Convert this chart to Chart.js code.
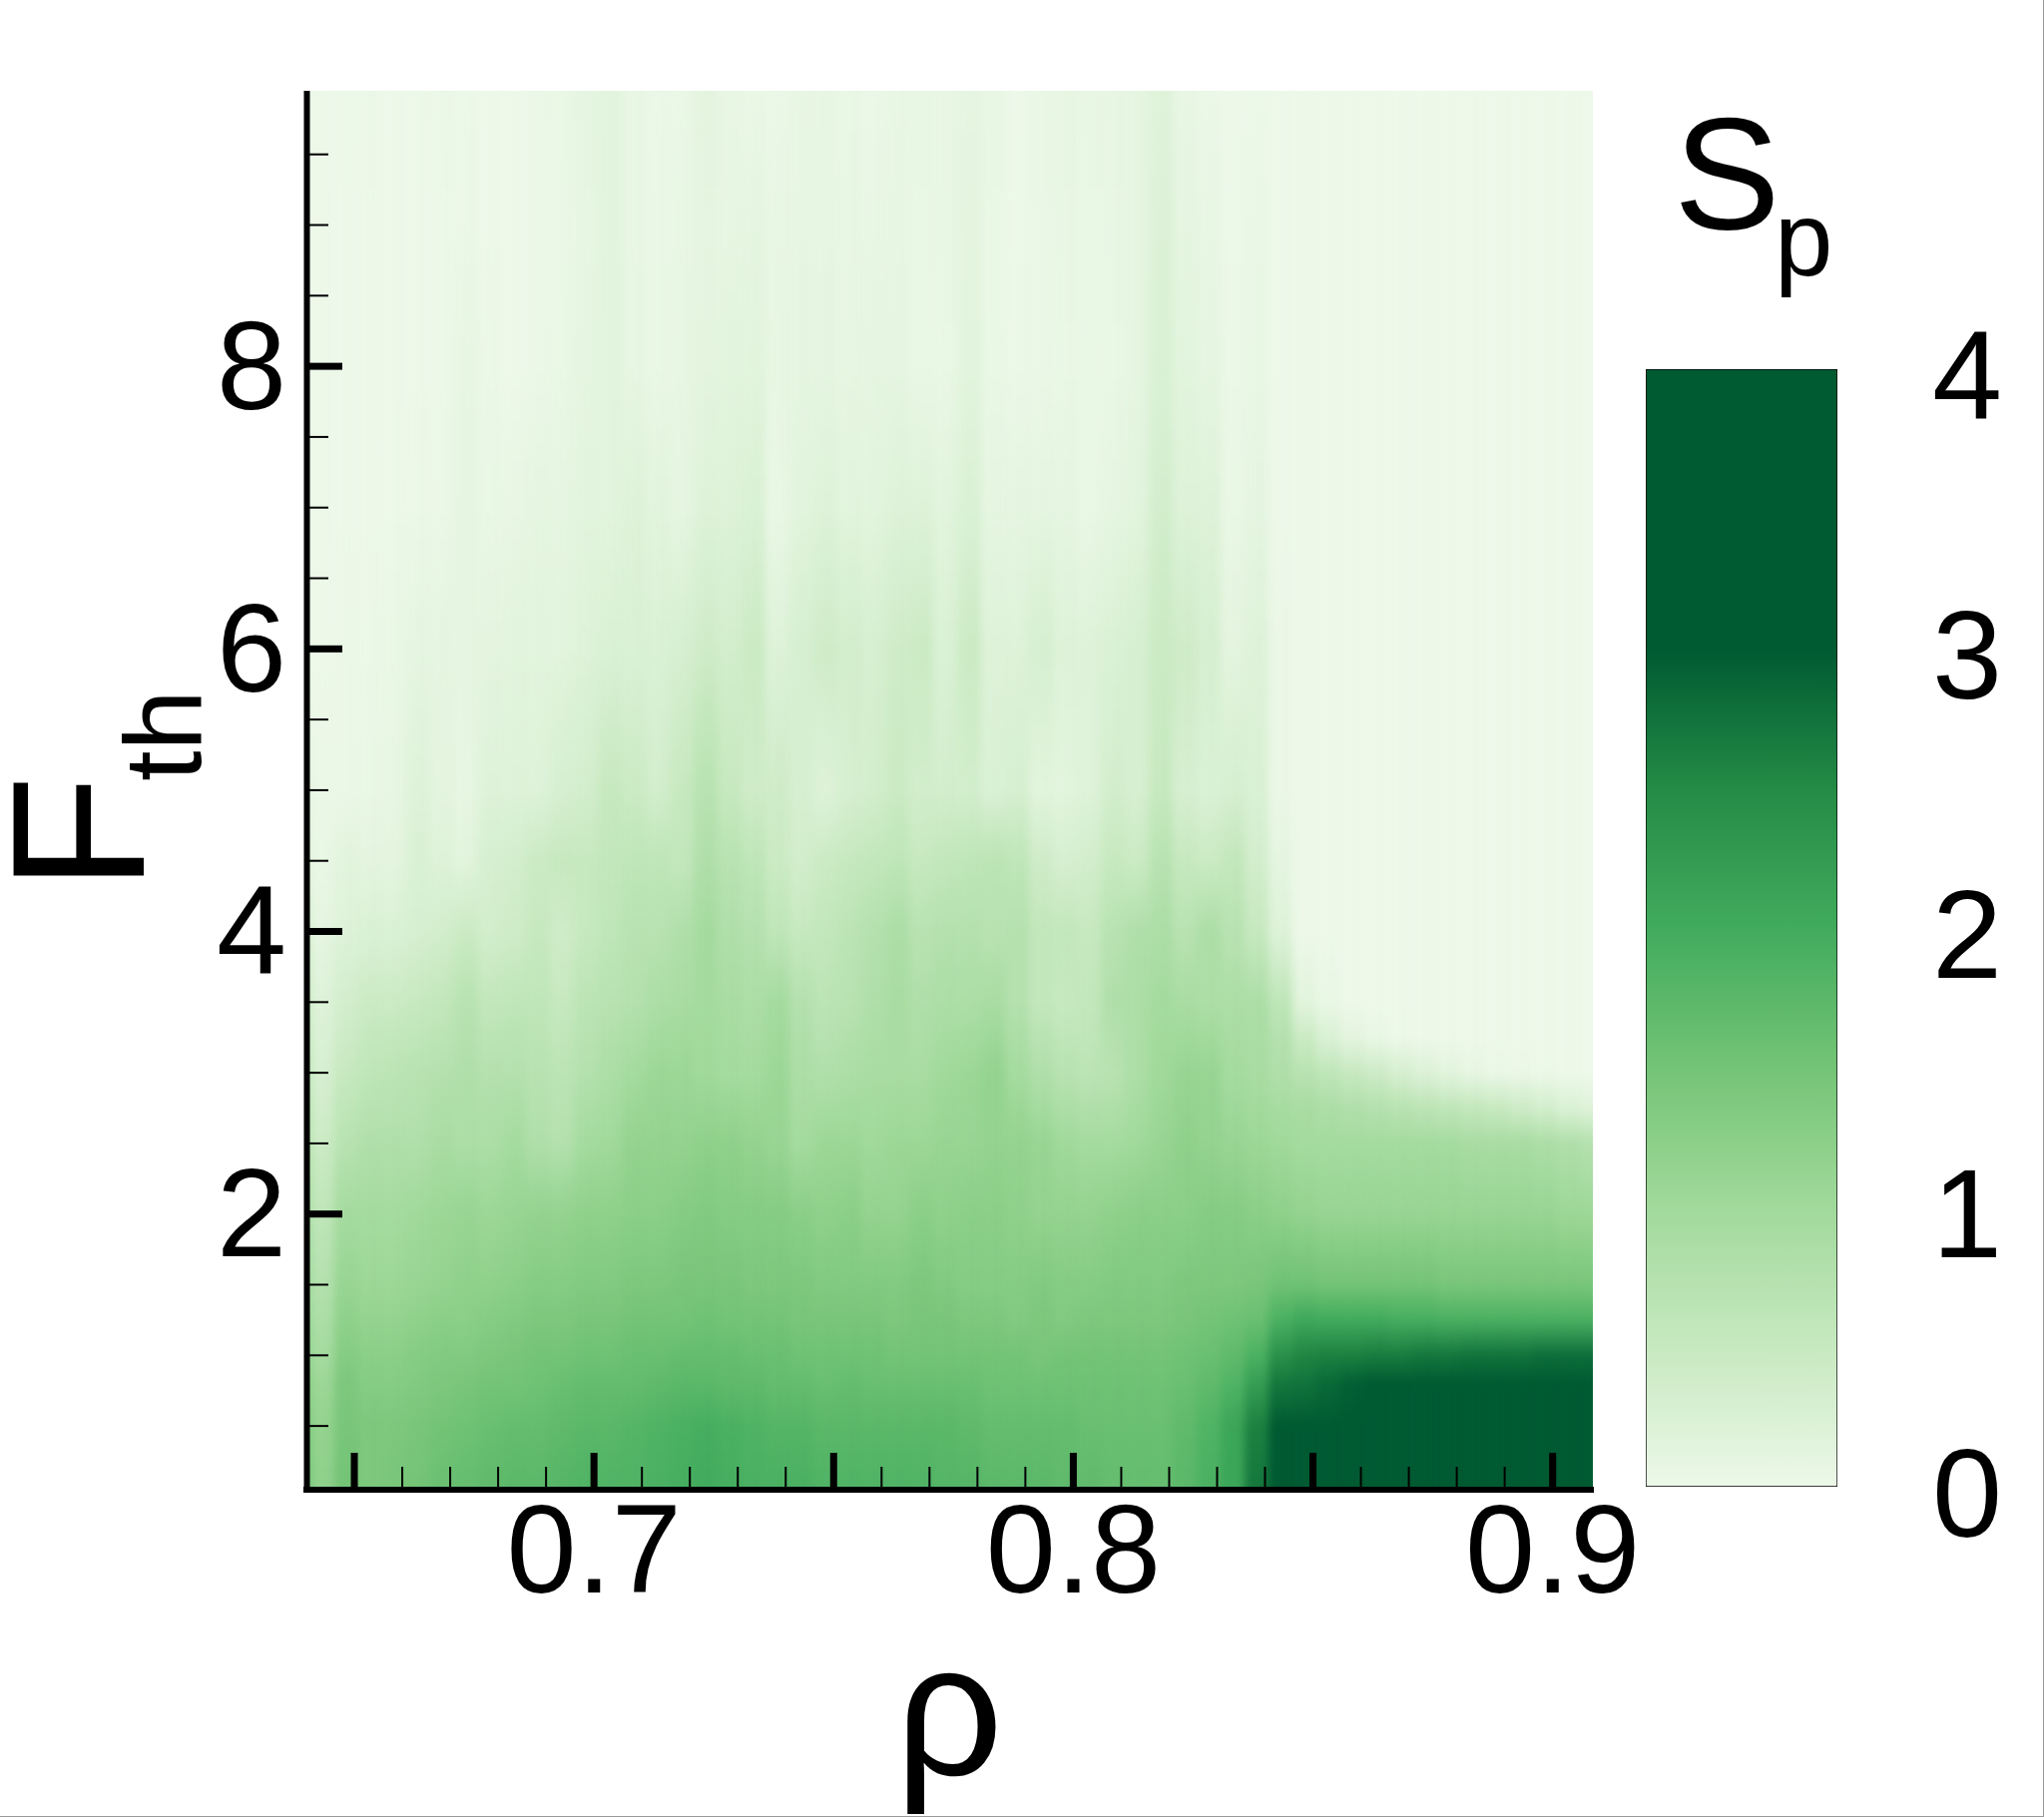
<!DOCTYPE html>
<html>
<head>
<meta charset="utf-8">
<title>Sp heatmap</title>
<script src="https://cdn.jsdelivr.net/npm/chart.js@4"></script>
<style>
    html, body { margin: 0; padding: 0; background: #fff; }
    #wrap { position: relative; width: 2048px; height: 1821px; overflow: hidden; }
    #wrap canvas { position: absolute; left: 0; top: 0; }
    #edge { position: absolute; left: 0; top: 0; width: 2048px; height: 1821px; box-sizing: border-box;
            border-right: 1px solid #999; border-bottom: 1px solid #999; }
</style>
</head>
<body>
<div id="wrap">
    <canvas id="mainChart" width="2048" height="1821"></canvas>
    <canvas id="barChart" width="2048" height="1821"></canvas>
    <div id="edge"></div>
</div>
<script>
// --- Data ---
const rhoValues = [
    0.64, 0.645, 0.65, 0.655, 0.66, 0.665, 0.67, 0.675, 0.68, 0.685,
    0.69, 0.695, 0.70, 0.705, 0.71, 0.715, 0.72, 0.725, 0.73, 0.735,
    0.74, 0.745, 0.75, 0.755, 0.76, 0.765, 0.77, 0.775, 0.78, 0.785,
    0.79, 0.795, 0.80, 0.805, 0.81, 0.815, 0.82, 0.825, 0.83, 0.835,
    0.84, 0.845, 0.85, 0.855, 0.86, 0.865, 0.87, 0.875, 0.88, 0.885,
    0.89, 0.895, 0.90, 0.905, 0.91
];
const fValues = [0.07, 0.5, 0.8, 1, 1.25, 1.5, 2, 2.5, 2.75, 3, 3.25, 3.5, 4, 4.5, 5, 6, 7, 8, 9, 9.95];

// Sp along rho, one list per F row
const spF007 = [1.6,1.2,1.5,1.4,1.45,1.5,1.6,1.65,1.7,1.75, 1.75,1.8,1.85,1.85,1.85,1.9,1.95,2.0,1.95,1.9, 1.9,1.9,1.85,1.85,1.85,1.85,1.85,1.8,1.8,1.75, 1.75,1.75,1.7,1.7,1.65,1.65,1.65,1.75,1.9,2.1, 2.7,3.4,3.4,3.4,3.4,3.4,3.4,3.4,3.4,3.4, 3.4,3.4,3.4,3.4,3.4];
const spF05 = [1.45,1.15,1.45,1.4,1.4,1.45,1.5,1.55,1.6,1.65, 1.65,1.7,1.75,1.75,1.8,1.85,1.9,1.95,1.9,1.85, 1.8,1.8,1.75,1.75,1.75,1.75,1.75,1.75,1.7,1.65, 1.65,1.65,1.65,1.6,1.6,1.6,1.6,1.7,1.85,2.1, 2.6,3.1,3.2,3.3,3.3,3.3,3.3,3.3,3.3,3.3, 3.3,3.3,3.3,3.3,3.3];
const spF08 = [1.35,1.05,1.4,1.3,1.3,1.35,1.4,1.45,1.5,1.5, 1.55,1.6,1.65,1.65,1.65,1.7,1.75,1.75,1.7,1.7, 1.65,1.65,1.6,1.65,1.6,1.6,1.6,1.6,1.6,1.55, 1.55,1.55,1.55,1.55,1.55,1.55,1.55,1.6,1.7,1.85, 2.2,2.7,2.75,2.85,2.95,3.0,3.05,3.05,3.1,3.1, 3.15,3.15,3.2,3.2,3.2];
const spF10 = [1.25,0.95,1.3,1.25,1.25,1.3,1.35,1.35,1.4,1.45, 1.5,1.5,1.55,1.55,1.6,1.6,1.65,1.65,1.65,1.6, 1.6,1.55,1.55,1.55,1.55,1.5,1.5,1.5,1.5,1.5, 1.5,1.45,1.5,1.5,1.5,1.5,1.5,1.55,1.6,1.7, 1.9,2.4,2.55,2.6,2.6,2.65,2.65,2.7,2.7,2.75, 2.75,2.75,2.8,2.8,2.8];
const spF125 = [1.15,0.85,1.2,1.15,1.15,1.2,1.25,1.25,1.3,1.35, 1.4,1.4,1.45,1.45,1.5,1.5,1.5,1.55,1.5,1.5, 1.5,1.45,1.45,1.45,1.45,1.4,1.45,1.45,1.4,1.4, 1.35,1.4,1.35,1.4,1.4,1.4,1.4,1.45,1.5,1.55, 1.6,1.9,2.05,2.0,2.0,2.0,1.95,1.95,1.9,1.9, 1.9,1.9,1.9,1.9,1.9];
const spF15 = [1.1,0.75,1.1,1.05,1.05,1.1,1.15,1.2,1.2,1.25, 1.3,1.3,1.35,1.35,1.4,1.4,1.45,1.45,1.45,1.4, 1.4,1.4,1.35,1.35,1.35,1.35,1.4,1.35,1.3,1.3, 1.3,1.35,1.3,1.3,1.35,1.35,1.35,1.4,1.4,1.4, 1.45,1.55,1.55,1.5,1.5,1.5,1.5,1.5,1.45,1.45, 1.45,1.45,1.45,1.45,1.45];
const spF20 = [1.0,0.6,0.95,0.95,0.95,1.0,1.05,1.1,1.05,1.1, 1.15,1.15,1.2,1.2,1.25,1.25,1.3,1.35,1.3,1.3, 1.3,1.25,1.2,1.25,1.15,1.15,1.25,1.2,1.25,1.25, 1.2,1.15,1.15,1.15,1.2,1.25,1.25,1.25,1.3,1.3, 1.25,1.2,1.15,1.1,1.1,1.1,1.1,1.1,1.1,1.1, 1.1,1.1,1.1,1.05,1.05];
const spF25 = [0.85,0.45,0.7,0.8,0.8,0.8,0.9,0.85,0.85,0.95, 0.8,0.75,0.95,1.0,1.15,1.15,1.15,1.2,1.2,1.15, 1.1,0.95,1.05,1.05,1.0,1.05,1.05,1.1,1.1,1.15, 1.15,1.1,1.0,0.95,0.95,1.0,1.1,1.2,1.15,1.1, 1.05,1.0,0.95,0.95,0.95,0.95,0.95,0.95,0.95,0.9, 0.9,0.9,0.85,0.8,0.75];
const spF275 = [0.78,0.37,0.6,0.7,0.72,0.75,0.82,0.82,0.8,0.85, 0.75,0.7,0.85,0.92,1.05,1.1,1.1,1.1,1.08,1.05, 1.08,0.9,0.92,0.95,0.95,0.98,0.98,1.05,1.08,1.15, 1.05,0.95,0.85,0.8,0.82,0.92,1.05,1.15,1.12,1.02, 0.98,0.92,0.9,0.85,0.8,0.75,0.7,0.65,0.6,0.55, 0.5,0.42,0.35,0.25,0.2];
const spF30 = [0.7,0.3,0.5,0.6,0.65,0.7,0.75,0.8,0.75,0.75, 0.7,0.65,0.75,0.85,0.95,1.05,1.05,1.0,0.95,0.95, 1.05,0.85,0.8,0.85,0.9,0.9,0.9,1.0,1.05,1.15, 0.95,0.8,0.7,0.65,0.7,0.85,1.0,1.1,1.1,0.95, 0.9,0.8,0.7,0.6,0.5,0.42,0.3,0.22,0.15,0.08, 0.04,0.02,0.01,0,0];
const spF325 = [0.62,0.25,0.42,0.52,0.55,0.6,0.65,0.75,0.65,0.68, 0.65,0.58,0.7,0.78,0.85,0.95,0.98,0.98,0.92,0.9, 1.0,0.8,0.72,0.78,0.85,0.9,0.85,0.92,0.95,1.02, 0.85,0.68,0.6,0.6,0.75,0.85,0.98,1.0,0.98,0.9, 0.88,0.75,0.45,0.25,0.12,0.05,0.01,0,0,0, 0,0,0,0,0];
const spF35 = [0.55,0.2,0.35,0.45,0.45,0.5,0.55,0.7,0.55,0.6, 0.6,0.5,0.65,0.7,0.75,0.85,0.9,0.95,0.9,0.85, 0.95,0.75,0.65,0.7,0.8,0.9,0.8,0.85,0.85,0.9, 0.75,0.55,0.5,0.55,0.8,0.85,0.95,0.9,0.85,0.85, 0.85,0.6,0.15,0.05,0,0,0,0,0,0, 0,0,0,0,0];
const spF40 = [0.4,0.1,0.2,0.25,0.25,0.3,0.35,0.45,0.35,0.4, 0.5,0.4,0.5,0.6,0.7,0.7,0.8,0.95,0.8,0.75, 0.6,0.5,0.55,0.65,0.75,0.85,0.7,0.75,0.75,0.7, 0.75,0.55,0.55,0.5,0.7,0.8,0.85,0.7,0.85,0.7, 0.5,0.2,0,0,0,0,0,0,0,0, 0,0,0,0,0];
const spF45 = [0.25,0.05,0.15,0.12,0.12,0.25,0.2,0.15,0.3,0.35, 0.45,0.5,0.5,0.55,0.6,0.6,0.55,0.8,0.7,0.6, 0.45,0.35,0.45,0.5,0.55,0.6,0.5,0.55,0.6,0.65, 0.6,0.4,0.3,0.35,0.5,0.45,0.7,0.5,0.45,0.55, 0.35,0.1,0,0,0,0,0,0,0,0, 0,0,0,0,0];
const spF50 = [0.15,0.02,0.03,0.05,0.08,0.2,0.12,0.08,0.2,0.2, 0.2,0.3,0.35,0.5,0.45,0.35,0.5,0.7,0.5,0.4, 0.4,0.3,0.2,0.3,0.35,0.45,0.35,0.35,0.35,0.25, 0.3,0.15,0.15,0.2,0.35,0.3,0.5,0.3,0.25,0.3, 0.25,0.02,0,0,0,0,0,0,0,0, 0,0,0,0,0];
const spF60 = [0,0,0.02,0.03,0.05,0.1,0.1,0.1,0.12,0.15, 0.15,0.15,0.2,0.25,0.25,0.25,0.3,0.4,0.35,0.45, 0.2,0.3,0.4,0.35,0.3,0.4,0.45,0.25,0.45,0.2, 0.2,0.3,0.2,0.2,0.25,0.3,0.45,0.4,0.3,0.12, 0.2,0.02,0,0,0,0,0,0,0,0, 0,0,0,0,0];
const spF70 = [0,0,0,0,0.01,0.02,0.03,0.1,0.05,0.07, 0.1,0.1,0.15,0.15,0.2,0.15,0.1,0.2,0.2,0.25, 0.05,0.15,0.2,0.15,0.15,0.2,0.2,0.15,0.25,0.1, 0.1,0.1,0.1,0.05,0.1,0.15,0.35,0.2,0.2,0.05, 0.1,0,0,0,0,0,0,0,0,0, 0,0,0,0,0];
const spF80 = [0,0,0,0,0,0,0.01,0.08,0.02,0, 0.03,0.05,0.1,0.15,0.08,0.05,0.08,0.12,0.15,0.15, 0.08,0.1,0.1,0.08,0.1,0.1,0.05,0.05,0.15,0.05, 0.03,0.04,0.05,0.05,0.05,0.1,0.25,0.15,0.1,0.02, 0.05,0,0,0,0,0,0,0,0,0, 0,0,0,0,0];
const spF90 = [0,0,0,0,0,0,0.01,0.03,0,0, 0.02,0.04,0.08,0.14,0.06,0.04,0.06,0.1,0.08,0.1, 0.06,0.08,0.08,0.06,0.06,0.08,0.05,0.06,0.12,0.05, 0.01,0.04,0.06,0.05,0.06,0.1,0.22,0.1,0.06,0.01, 0.04,0,0,0,0,0,0,0,0,0, 0,0,0,0,0];
const spF995 = [0,0,0.01,0.02,0,0.01,0.02,0.01,0,0, 0.03,0.05,0.1,0.15,0.06,0.03,0.04,0.12,0.06,0.04, 0.03,0.06,0.08,0.05,0.03,0.06,0.06,0.07,0.1,0.06, 0,0.05,0.08,0.06,0.08,0.1,0.18,0.06,0.03,0, 0.01,0,0,0,0,0,0,0,0,0, 0,0,0,0,0];
const spRows = [spF007, spF05, spF08, spF10, spF125, spF15, spF20, spF25, spF275, spF30, spF325, spF35, spF40, spF45, spF50, spF60, spF70, spF80, spF90, spF995];

// Colour legend
const colorbarLevels = [0, 0.5, 1, 1.5, 2, 2.5, 3];
const colorbarColors = ['#edf8e9', '#c7e9c0', '#a1d99b', '#74c476', '#41ab5d', '#238b45', '#005a32'];

// Axis ticks
const xMajorTicks = [0.65, 0.7, 0.75, 0.8, 0.85, 0.9];
const xLabelTicks = [0.7, 0.8, 0.9];
const xMinorTicks = [0.66, 0.67, 0.68, 0.69, 0.71, 0.72, 0.73, 0.74, 0.76, 0.77, 0.78, 0.79, 0.81, 0.82, 0.83, 0.84, 0.86, 0.87, 0.88, 0.89];
const yMajorTicks = [2, 4, 6, 8];
const yMinorTicks = [0.5, 1, 1.5, 2.5, 3, 3.5, 4.5, 5, 5.5, 6.5, 7, 7.5, 8.5, 9, 9.5];

spRows.forEach((r, i) => { if (r.length !== rhoValues.length) throw new Error('row ' + i + ' has ' + r.length); });

// --- Colour helpers ---
function hexToRgb(hex) {
    return [1, 3, 5].map(i => parseInt(hex.substr(i, 2), 16));
}

function colorFor(v) {
    const n = colorbarLevels.length;
    if (v <= colorbarLevels[0]) return colorbarColors[0];
    if (v >= colorbarLevels[n - 1]) return colorbarColors[n - 1];
    let i = 0;
    while (v > colorbarLevels[i + 1]) i++;
    const t = (v - colorbarLevels[i]) / (colorbarLevels[i + 1] - colorbarLevels[i]);
    const a = hexToRgb(colorbarColors[i]);
    const b = hexToRgb(colorbarColors[i + 1]);
    return `rgb(${a.map((c, k) => Math.round(c + (b[k] - c) * t)).join(',')})`;
}

// Vertical gradient for one rho column, stops placed by the y scale
function columnGradient(context) {
    const chart = context.chart;
    const i = context.dataIndex;
    if (i === undefined || !chart.chartArea) return colorbarColors[0];
    const y = chart.scales.y;
    const y0 = y.getPixelForValue(fValues[0]);
    const y1 = y.getPixelForValue(fValues[fValues.length - 1]);
    const grad = chart.ctx.createLinearGradient(0, y0, 0, y1);
    fValues.forEach((f, k) => {
        grad.addColorStop((y.getPixelForValue(f) - y0) / (y1 - y0), colorFor(spRows[k][i]));
    });
    return grad;
}

// --- Plugins ---
const softColumns = {
    id: 'softColumns',
    beforeDatasetDraw(chart) { chart.ctx.save(); chart.ctx.filter = 'blur(4px)'; },
    afterDatasetDraw(chart) { chart.ctx.restore(); }
};

function drawAxes(chart) {
    const { ctx, scales: { x, y }, chartArea: area } = chart;
    ctx.save();
    ctx.fillStyle = '#000';
    // the frame lines sit just outside the plot
    ctx.fillRect(area.left - 2.5, area.top, 6, area.bottom - area.top + 5);
    ctx.fillRect(area.left - 3, area.bottom, area.right - area.left + 4, 6);
    xMajorTicks.forEach(v => ctx.fillRect(x.getPixelForValue(v) - 3.5, area.bottom - 34, 7, 34));
    xMinorTicks.forEach(v => ctx.fillRect(x.getPixelForValue(v) - 1, area.bottom - 20, 2, 20));
    yMajorTicks.forEach(v => ctx.fillRect(area.left, y.getPixelForValue(v) - 3.5, 36, 7));
    yMinorTicks.forEach(v => ctx.fillRect(area.left, y.getPixelForValue(v) - 1, 22, 2));
    ctx.restore();
}

function drawText(ctx, text, x, y, size, angle) {
    ctx.save();
    ctx.translate(x, y);
    ctx.rotate(angle || 0);
    ctx.font = size + 'px "Liberation Sans"';
    ctx.fillStyle = '#000';
    ctx.textAlign = 'left';
    ctx.textBaseline = 'alphabetic';
    ctx.fillText(text, 0, 0);
    ctx.restore();
}

const axisMarks = {
    id: 'axisMarks',
    afterDatasetsDraw(chart) { drawAxes(chart); },
    afterDraw(chart) {
        const ctx = chart.ctx;
        drawText(ctx, 'F', 144, 893, 190, -Math.PI / 2);
        drawText(ctx, 'th', 201, 783, 110, -Math.PI / 2);
        drawText(ctx, 'ρ', 897, 1779, 190);
        drawText(ctx, 'S', 1677, 229, 160);
        drawText(ctx, 'p', 1778, 276, 105);
    }
};

// --- Main chart ---
const tickFont = { family: '"Liberation Sans"', size: 126 };

new Chart(document.getElementById('mainChart'), {
    type: 'bar',
    data: {
        datasets: [{
            data: rhoValues.map(rho => ({ x: rho, y: [-2, 12] })),
            backgroundColor: columnGradient,
            borderWidth: 0,
            barThickness: 40
        }]
    },
    options: {
        responsive: false,
        animation: false,
        layout: { padding: { top: 91, right: 452, left: 0, bottom: 0 } },
        plugins: { legend: { display: false }, tooltip: { enabled: false } },
        scales: {
            x: {
                type: 'linear',
                offset: false,
                min: 0.64,
                max: 0.9084,
                afterBuildTicks: axis => { axis.ticks = xLabelTicks.map(value => ({ value })); },
                afterFit: axis => { axis.height = 331; axis.paddingLeft = 0; axis.paddingRight = 0; },
                grid: { display: false, drawTicks: false },
                border: { display: false },
                ticks: { color: '#000', font: tickFont, padding: -4, maxRotation: 0, autoSkip: false, callback: v => v.toFixed(1) }
            },
            y: {
                min: 0.07,
                max: 9.95,
                afterBuildTicks: axis => { axis.ticks = yMajorTicks.map(value => ({ value })); },
                afterFit: axis => { axis.width = 307; axis.paddingTop = 0; axis.paddingBottom = 0; },
                grid: { display: false, drawTicks: false },
                border: { display: false },
                ticks: { color: '#000', font: tickFont, padding: 20, labelOffset: 8, autoSkip: false }
            }
        }
    },
    plugins: [softColumns, axisMarks]
});

// --- Colour bar ---
function legendGradient(context) {
    const chart = context.chart;
    if (!chart.chartArea) return colorbarColors[0];
    const y = chart.scales.y;
    const grad = chart.ctx.createLinearGradient(0, y.getPixelForValue(0), 0, y.getPixelForValue(4));
    colorbarLevels.forEach((v, k) => grad.addColorStop(v / 4, colorbarColors[k]));
    return grad;
}

new Chart(document.getElementById('barChart'), {
    type: 'bar',
    data: {
        labels: ['Sp'],
        datasets: [{
            data: [[0, 4]],
            backgroundColor: legendGradient,
            borderColor: '#000',
            borderWidth: 1,
            borderSkipped: false,
            barPercentage: 1,
            categoryPercentage: 1
        }]
    },
    options: {
        responsive: false,
        animation: false,
        layout: { padding: { top: 370, right: 0, left: 1649, bottom: 331 } },
        plugins: { legend: { display: false }, tooltip: { enabled: false } },
        scales: {
            x: { display: false },
            y: {
                position: 'right',
                min: 0,
                max: 4,
                afterFit: axis => { axis.width = 207; },
                grid: { display: false, drawTicks: false },
                border: { display: false },
                ticks: { color: '#000', font: tickFont, stepSize: 1, padding: 95, labelOffset: 15 }
            }
        }
    }
});
</script>
</body>
</html>
